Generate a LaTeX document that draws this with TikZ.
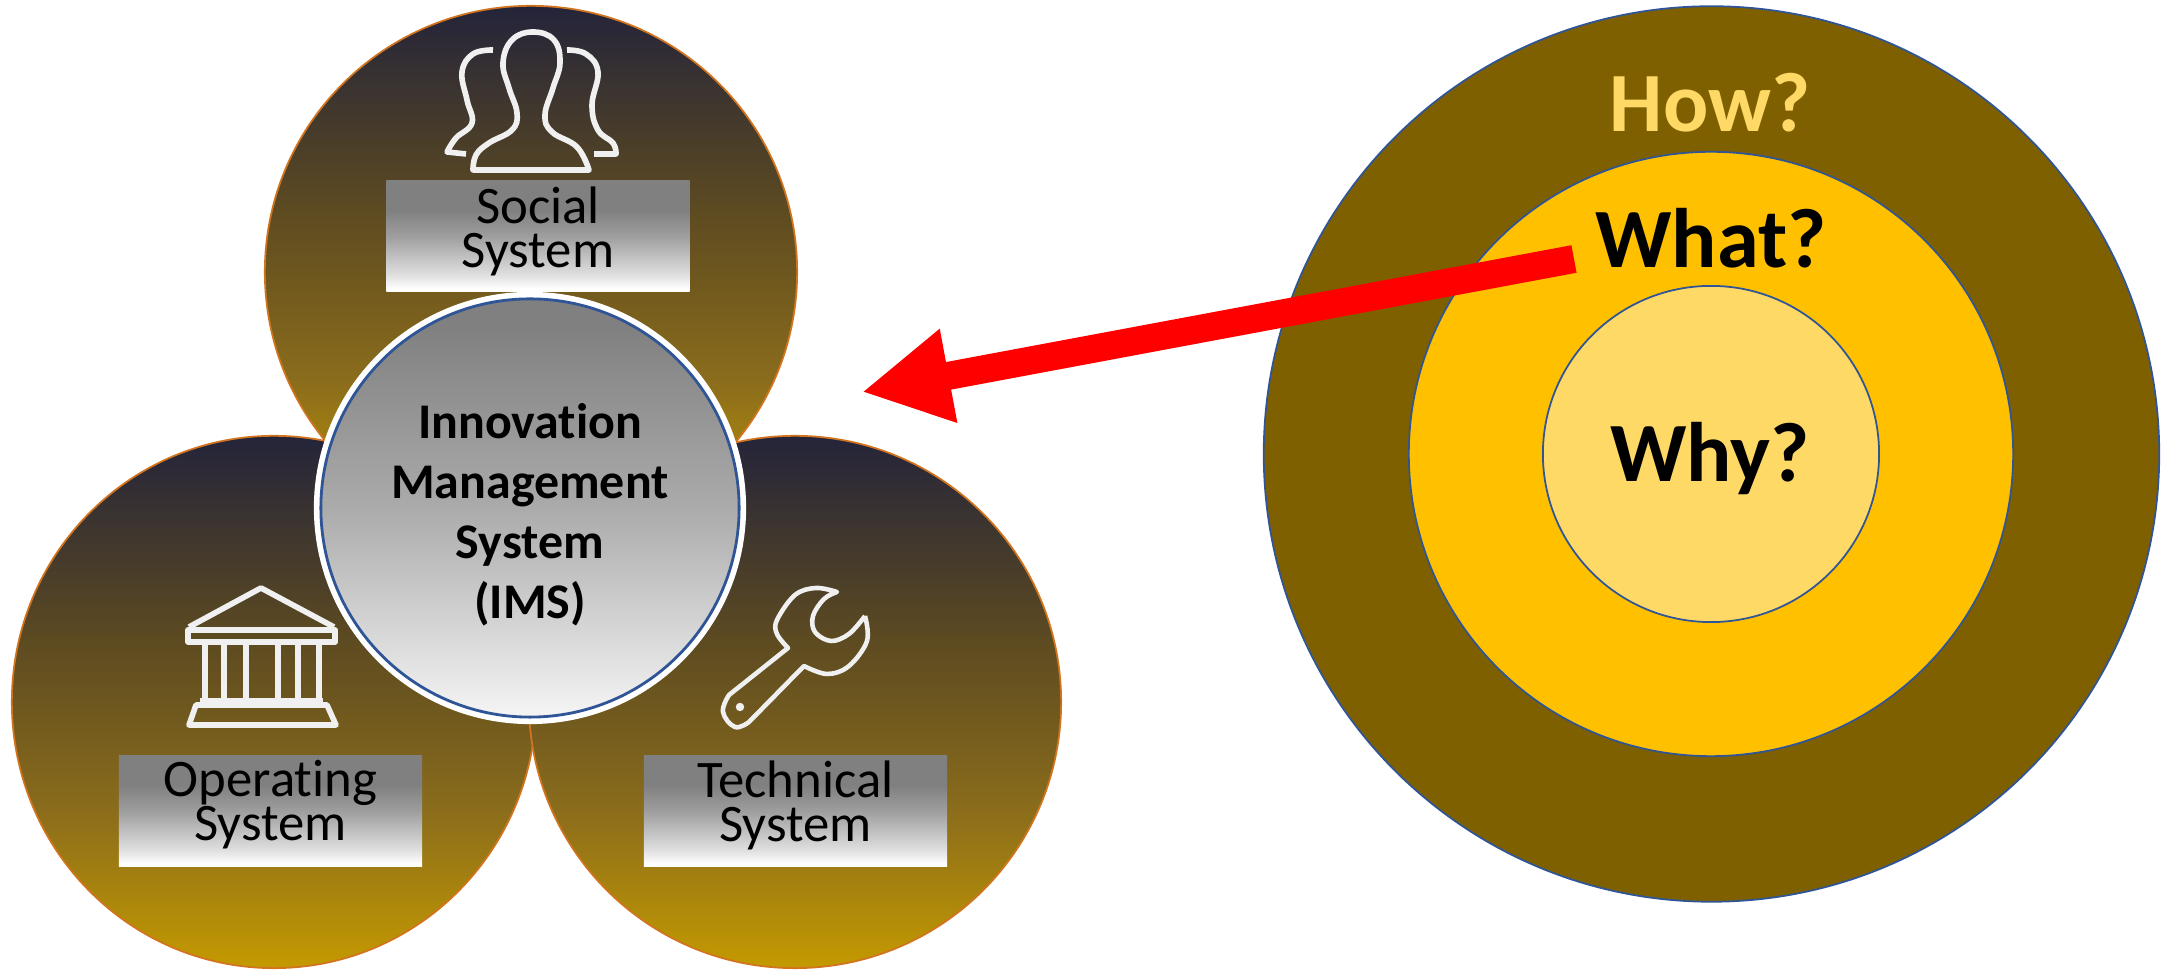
\documentclass[tikz,border=0pt]{standalone}
\usepackage{fontspec}
\setmainfont[Ligatures=CommonOff]{Carlito}
\usetikzlibrary{positioning,arrows.meta,shapes.geometric}

\definecolor{discTop}{HTML}{24243A}
\definecolor{discMid}{HTML}{5F4C20}
\definecolor{discLow}{HTML}{8A6C1C}
\definecolor{discEnd}{HTML}{C49A00}
\definecolor{discEdge}{HTML}{D2741E}
\definecolor{ringBlue}{HTML}{2F5597}
\definecolor{howBrown}{HTML}{7F6000}
\definecolor{whatGold}{HTML}{FFC000}
\definecolor{whyGold}{HTML}{FFD966}

\pgfdeclareverticalshading{discshade}{100bp}{color(0bp)=(discEnd); color(25bp)=(discEnd); color(40bp)=(discLow); color(55bp)=(discMid); color(75bp)=(discTop); color(100bp)=(discTop)}
\pgfdeclareverticalshading{boxshade}{100bp}{color(0bp)=(white); color(26bp)=(white); color(32bp)=(black!12); color(50bp)=(black!38); color(62bp)=(black!50); color(100bp)=(black!50)}
\pgfdeclareverticalshading{imsshade}{100bp}{color(0bp)=(white); color(25bp)=(black!4); color(50bp)=(black!33); color(72bp)=(black!50); color(100bp)=(black!50)}

\begin{document}
\begin{tikzpicture}[
                x=0.01cm, y=-0.01cm,
                disc/.style={ellipse, draw=discEdge, line width=0.5pt, inner sep=0pt, minimum width=5.32cm, minimum height=5.32cm, shading=discshade},
                sysbox/.style={rectangle, inner sep=0pt, minimum width=3.03cm, minimum height=1.1cm, shading=boxshade},
                systext/.style={align=center, inner sep=0pt, font=\fontsize{15}{12.5}\selectfont},
                goal/.style={circle, draw=ringBlue, line width=0.5pt, inner sep=0pt},
                goaltext/.style={inner sep=0pt, font=\fontsize{24}{28}\selectfont\bfseries},
                icon/.style={draw=white!94!black, line width=1.6pt, line join=round}
            ]
            \useasboundingbox (0,0) rectangle (2162,971);
            \node (SocialDisc) [disc] at (531,272) {};
            \node (OperatingDisc) [disc, minimum width=5.24cm] at (274,702) {};
            \node (TechnicalDisc) [disc] at (795,702) {};

            \node (IMSRing) [circle, fill=white, inner sep=0pt, minimum size=4.32cm] at (530,508) {};
            \node (IMS) [circle, draw=ringBlue, line width=0.8pt, inner sep=0pt, minimum size=4.18cm, shading=imsshade] at (530,508) {};
            \node (IMSText) [align=center, inner sep=0pt, font=\fontsize{14.2}{17.1}\selectfont\bfseries] at (530,515) {Innovation\\Management\\System\\(IMS)};

            \node (SocialBox) [sysbox] at (538,236) {};
            \node (SocialText) [systext] at (538,231) {Social\\System};
            \node (OperatingBox) [sysbox] at (270.5,811) {};
            \node (OperatingText) [systext] at (270.5,805) {Operating\\System};
            \node (TechnicalBox) [sysbox] at (795.5,811) {};
            \node (TechnicalText) [systext] at (795.5,805) {Technical\\System};

            % people
            \draw[icon] plot[smooth, tension=0.7] coordinates {(473,170) (476,155) (489,143) (512,130) (517,113) (509,88) (503,63) (512,40) (533,32) (554,40) (560,63) (553,88) (545,115) (552,132) (577,147) (589,170)} -- cycle;
            \draw[icon] plot[smooth, tension=0.7] coordinates {(493,50) (473,54) (462,72) (467,100) (472,123) (456,138) (447,152)} -- (466,154);
            \draw[icon] plot[smooth, tension=0.7] coordinates {(567,50) (586,54) (598,72) (592,105) (598,130) (613,143) (616,154)} -- (594,154);

            % temple
            \draw[icon] (189,627) -- (261,588) -- (334,627);
            \draw[icon] (188,630) rectangle (335,642);
            \draw[icon] (205,642) -- (205,701) (224,642) -- (224,701) (246,642) -- (246,701);
            \draw[icon] (278,642) -- (278,701) (298,642) -- (298,701) (319,642) -- (319,701);
            \draw[icon] (200,701) -- (323,701);
            \draw[icon] (196,705) -- (327,705) -- (336,725) -- (189,725) -- cycle;

            % wrench
            \draw[icon, line width=1.3pt] plot[smooth, tension=0.6] coordinates {(865,616) (867,641) (849,666) (827,674) (804,666)} -- plot[smooth, tension=0.7] coordinates {(749,722) (735,727) (723,712) (729,695)} -- plot[smooth, tension=0.6] coordinates {(788,648) (777,634) (777,620) (795,595) (816,588) (837,592)} -- plot[smooth, tension=0.6] coordinates {(837,592) (824,599) (813,616) (815,632) (831,641) (849,634) (865,616)};
            \fill[white!94!black] (740,707) circle (1.2pt);

            \node (HowDisc) [goal, fill=howBrown, minimum size=8.95cm] at (1711.5,454) {};
            \node (WhatDisc) [goal, fill=whatGold, minimum size=6.04cm] at (1711,454) {};
            \node (WhyDisc) [goal, fill=whyGold, minimum size=3.36cm] at (1711,454) {};
            \node (How) [goaltext, text=whyGold] at (1710,103) {How?};
            \node (What) [goaltext] at (1711,238) {What?};
            \node (Why) [goaltext] at (1710,459) {Why?};

            \coordinate (ArrowStart) at (1574,259);
            \coordinate (ArrowTip) at (862,392);
            \draw[red, line width=0.28cm, -{Triangle[length=8.8mm, width=8.9mm]}] (ArrowStart) -- (ArrowTip);
\end{tikzpicture}
\end{document}
